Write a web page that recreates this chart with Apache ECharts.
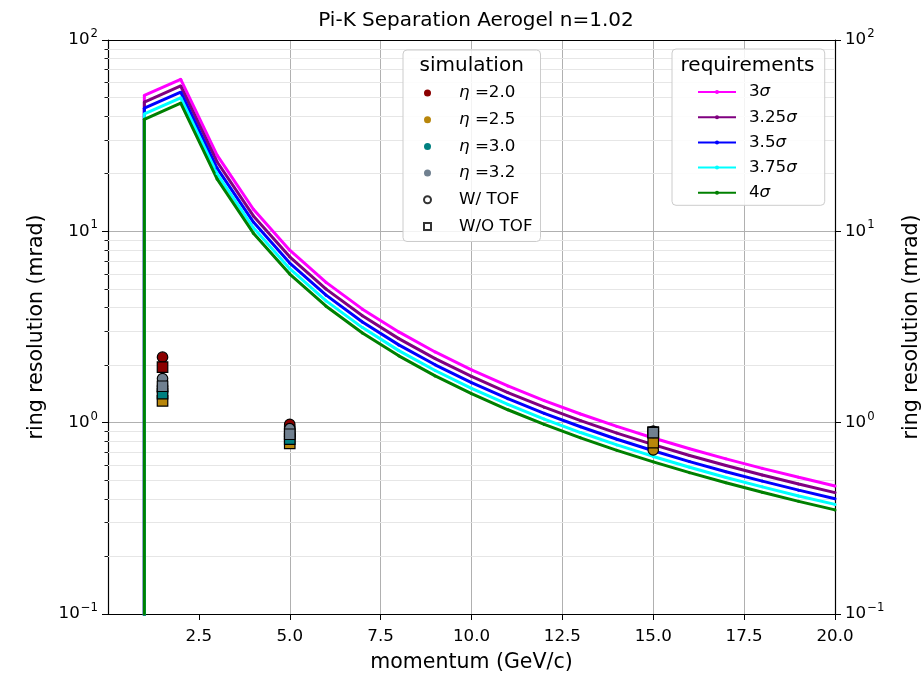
<!DOCTYPE html>
<html>
<head>
<meta charset="utf-8">
<script src="https://cdn.jsdelivr.net/npm/echarts@6/dist/echarts.min.js"></script>
<style>
html, body { margin: 0; padding: 0; background: #ffffff; }
#chart { width: 924px; height: 676px; }
</style>
</head>
<body>
<div id="chart"></div>
<script>
// ---------------- data ----------------
const momentum = [1, 2, 3, 4, 5, 6, 7, 8, 9, 10, 11, 12, 13, 14, 15, 16, 17, 18, 19, 20];
// value just below Cherenkov threshold at p = 1 GeV/c (drawn off the bottom of the axis)
const belowThresholdValue = 0.001;

const req3sigma    = [51.3, 62.3, 25.0, 13.05, 7.97, 5.41, 3.92, 2.98, 2.342, 1.889, 1.557, 1.305, 1.110, 0.956, 0.832, 0.731, 0.647, 0.577, 0.518, 0.467];
const req325sigma  = [47.4, 57.5, 23.1, 12.04, 7.36, 4.99, 3.62, 2.75, 2.162, 1.744, 1.437, 1.205, 1.025, 0.882, 0.768, 0.674, 0.597, 0.533, 0.478, 0.431];
const req35sigma   = [44.0, 53.4, 21.4, 11.18, 6.83, 4.64, 3.36, 2.55, 2.007, 1.619, 1.335, 1.119, 0.952, 0.819, 0.713, 0.626, 0.554, 0.495, 0.444, 0.400];
const req375sigma  = [41.1, 49.9, 20.0, 10.44, 6.38, 4.33, 3.14, 2.38, 1.873, 1.511, 1.246, 1.044, 0.888, 0.765, 0.666, 0.585, 0.517, 0.462, 0.414, 0.374];
const req4sigma    = [38.5, 46.8, 18.8, 9.785, 5.98, 4.06, 2.94, 2.235, 1.756, 1.417, 1.168, 0.979, 0.833, 0.717, 0.624, 0.548, 0.485, 0.433, 0.388, 0.350];

const requirementNames  = ['3σ', '3.25σ', '3.5σ', '3.75σ', '4σ'];
const requirementColors = ['#ff00ff', '#800080', '#0000ff', '#00ffff', '#008000'];

const simMomentum = [1.5, 5, 15];
const eta20WithTOF    = [2.20, 0.98, 0.90];
const eta20WithoutTOF = [1.95, 0.90, 0.89];
const eta25WithTOF    = [1.45, 0.85, 0.72];
const eta25WithoutTOF = [1.30, 0.78, 0.786];
const eta30WithTOF    = [1.55, 0.88, 0.90];
const eta30WithoutTOF = [1.42, 0.82, 0.89];
const eta32WithTOF    = [1.70, 0.93, 0.89];
const eta32WithoutTOF = [1.55, 0.87, 0.886];

const simNames  = ['η =2.0', 'η =2.5', 'η =3.0', 'η =3.2'];
const simColors = ['#8b0000', '#b8860b', '#008080', '#708090'];

const xTickValues = [2.5, 5, 7.5, 10, 12.5, 15, 17.5, 20];
const yMinorValues = [0.2, 0.3, 0.4, 0.5, 0.6, 0.7, 0.8, 0.9, 2, 3, 4, 5, 6, 7, 8, 9, 20, 30, 40, 50, 60, 70, 80, 90];

// ---------------- build ----------------
const FONT = 'DejaVu Sans';
const TICK_FS = 16.7;
const LABEL_FS = 20.5;
const LEG_FS = 16.7;
const reqValues = [req3sigma, req325sigma, req35sigma, req375sigma, req4sigma];
const simWith = [eta20WithTOF, eta25WithTOF, eta30WithTOF, eta32WithTOF];
const simWithout = [eta20WithoutTOF, eta25WithoutTOF, eta30WithoutTOF, eta32WithoutTOF];

const series = [];
reqValues.forEach((vals, k) => {
  const data = [[momentum[0], belowThresholdValue]].concat(momentum.map((p, i) => [p, vals[i]]));
  const s = {
    name: requirementNames[k],
    type: 'line',
    data: data,
    color: requirementColors[k],
    lineStyle: { width: 3, color: requirementColors[k] },
    itemStyle: { color: requirementColors[k] },
    symbol: 'circle',
    symbolSize: 3,
    showSymbol: true,
    clip: true,
    z: 2
  };
  if (k === 0) {
    s.markLine = {
      silent: true,
      z: 1,
      symbol: ['none', 'none'],
      label: { show: false },
      lineStyle: { color: '#e6e6e6', width: 1, type: 'solid' },
      emphasis: { disabled: true },
      data: yMinorValues.map(v => ({ yAxis: v }))
    };
  }
  series.push(s);
});

simNames.forEach((name, k) => {
  const data = simMomentum.map((p, i) => ({ value: [p, simWith[k][i]], symbol: 'circle' }))
    .concat(simMomentum.map((p, i) => ({ value: [p, simWithout[k][i]], symbol: 'rect' })));
  series.push({
    name: name,
    type: 'scatter',
    data: data,
    symbol: 'circle',
    symbolSize: 10.5,
    color: simColors[k],
    itemStyle: { color: simColors[k], borderColor: '#000', borderWidth: 1.2, opacity: 1 },
    z: 3
  });
});
series.push({ name: 'W/ TOF', type: 'scatter', data: [], symbol: 'circle',
  itemStyle: { color: '#ffffff', borderColor: '#000', borderWidth: 2 } });
series.push({ name: 'W/O TOF', type: 'scatter', data: [], symbol: 'rect',
  itemStyle: { color: '#ffffff', borderColor: '#000', borderWidth: 2 } });

const logLabel = {
  fontFamily: FONT,
  color: '#000',
  formatter: v => {
    const e = Math.round(Math.log10(v));
    return '{b|10}{s|' + (e < 0 ? '\u2212' + (-e) : e) + '}';
  },
  rich: {
    b: { fontSize: TICK_FS, fontFamily: FONT, color: '#000', lineHeight: 24 },
    s: { fontSize: 11.7, fontFamily: FONT, color: '#000', lineHeight: 13, verticalAlign: 'top', padding: [0, 0, 0, 1] }
  }
};

function yAxisBase(position, withLabels) {
  return {
    type: 'log',
    logBase: 10,
    min: 0.1,
    max: 100,
    position: position,
    axisLine: { show: true, onZero: false, lineStyle: { color: '#000', width: 1.2 } },
    axisTick: { show: true, inside: false, length: 6, lineStyle: { color: '#000', width: 1 } },
    axisLabel: Object.assign({ show: withLabels, margin: 10 }, logLabel),
    splitLine: { show: false },
    minorTick: { show: false }
  };
}

const yLeft = yAxisBase('left', true);
yLeft.splitLine = { show: true, showMinLine: false, showMaxLine: false, lineStyle: { color: '#b0b0b0', width: 1 } };
yLeft.name = 'ring resolution (mrad)';
yLeft.nameLocation = 'middle';
yLeft.nameRotate = 90;
yLeft.nameGap = 60;
yLeft.nameTextStyle = { fontSize: LABEL_FS, fontFamily: FONT, color: '#000' };

const yRight = yAxisBase('right', true);
yRight.name = 'ring resolution (mrad)';
yRight.nameLocation = 'middle';
yRight.nameRotate = 90;
yRight.nameGap = 66;
yRight.nameTextStyle = { fontSize: LABEL_FS, fontFamily: FONT, color: '#000' };

function minorAxis(position) {
  return {
    type: 'log', logBase: 10, min: 0.1, max: 100, position: position,
    axisLine: { show: false },
    axisTick: { show: true, inside: false, length: 3.5, customValues: yMinorValues, lineStyle: { color: '#000', width: 0.9 } },
    axisLabel: { show: false },
    splitLine: { show: false }
  };
}

const option = {
  animation: false,
  backgroundColor: '#ffffff',
  textStyle: { fontFamily: FONT },
  title: {
    text: 'Pi-K Separation Aerogel n=1.02',
    left: 471, top: 6, textAlign: 'center',
    textStyle: { fontSize: 20, fontWeight: 'normal', color: '#000', fontFamily: FONT }
  },
  grid: { left: 108, right: 89, top: 40, bottom: 62, show: false, containLabel: false, outerBoundsMode: 'none' },
  xAxis: [{
    type: 'value',
    min: 0, max: 20, interval: 2.5,
    position: 'bottom',
    name: 'momentum (GeV/c)',
    nameLocation: 'middle',
    nameGap: 38,
    nameTextStyle: { fontSize: LABEL_FS, fontFamily: FONT, color: '#000' },
    axisLine: { show: true, onZero: false, lineStyle: { color: '#000', width: 1.2 } },
    axisTick: { show: true, inside: false, length: 6, customValues: xTickValues, lineStyle: { color: '#000', width: 1 } },
    axisLabel: { fontSize: TICK_FS, color: '#000', fontFamily: FONT, margin: 14,
      customValues: xTickValues,
      formatter: v => (v === 0 ? '' : v.toFixed(1)) },
    splitLine: { show: true, showMinLine: false, showMaxLine: false, lineStyle: { color: '#b0b0b0', width: 1 } }
  }, {
    type: 'value', min: 0, max: 20, position: 'top',
    axisLine: { show: true, onZero: false, lineStyle: { color: '#000', width: 1.2 } },
    axisTick: { show: false }, axisLabel: { show: false }, splitLine: { show: false }
  }],
  yAxis: [yLeft, yRight, minorAxis('left'), minorAxis('right')],
  legend: [{
    orient: 'vertical',
    left: 403, top: 50,
    padding: [33, 8, 5, 20],
    itemGap: 6.7,
    itemWidth: 7, itemHeight: 7,
    backgroundColor: 'rgba(255,255,255,0.85)',
    borderColor: '#cccccc', borderWidth: 1, borderRadius: 4,
    selectedMode: false,
    z: 10,
    data: simNames.map(n => ({ name: n, itemStyle: { borderWidth: 0 } })).concat(['W/ TOF', 'W/O TOF']),
    formatter: name => {
      if (name.indexOf('η') === 0) return '{g|η}{t|' + name.slice(1) + '}';
      return '{w|' + name + '}';
    },
    textStyle: {
      fontSize: LEG_FS, color: '#000', fontFamily: FONT, lineHeight: 20,
      rich: {
        g: { fontSize: LEG_FS, fontFamily: FONT, fontStyle: 'italic', color: '#000', lineHeight: 20, padding: [0, 0, 0, 23] },
        t: { fontSize: LEG_FS, fontFamily: FONT, color: '#000', lineHeight: 20 },
        w: { fontSize: LEG_FS, fontFamily: FONT, color: '#000', lineHeight: 20, padding: [0, 0, 0, 23] }
      }
    }
  }, {
    orient: 'vertical',
    left: 672, top: 49,
    padding: [33, 28, 2.5, 25],
    itemGap: 5.2,
    itemWidth: 38, itemHeight: 5,
    backgroundColor: 'rgba(255,255,255,0.85)',
    borderColor: '#cccccc', borderWidth: 1, borderRadius: 4,
    selectedMode: false,
    z: 10,
    data: requirementNames,
    formatter: name => '{a|' + name.slice(0, -1) + '}{s|σ}',
    textStyle: {
      fontSize: LEG_FS, color: '#000', fontFamily: FONT, lineHeight: 20,
      rich: {
        a: { fontSize: LEG_FS, fontFamily: FONT, color: '#000', lineHeight: 20, padding: [0, 0, 0, 8] },
        s: { fontSize: LEG_FS, fontFamily: FONT, color: '#000', lineHeight: 20, fontStyle: 'italic' }
      }
    }
  }],
  graphic: [{
    type: 'text', z: 100,
    x: 471.7, y: 66,
    style: { text: 'simulation', fontSize: 20, fontFamily: FONT, fill: '#000', align: 'center', verticalAlign: 'middle' }
  }, {
    type: 'text', z: 100,
    x: 747.5, y: 66,
    style: { text: 'requirements', fontSize: 20, fontFamily: FONT, fill: '#000', align: 'center', verticalAlign: 'middle' }
  }],
  series: series
};

const chart = echarts.init(document.getElementById('chart'), null, { renderer: 'canvas' });
chart.setOption(option);
</script>
</body>
</html>
